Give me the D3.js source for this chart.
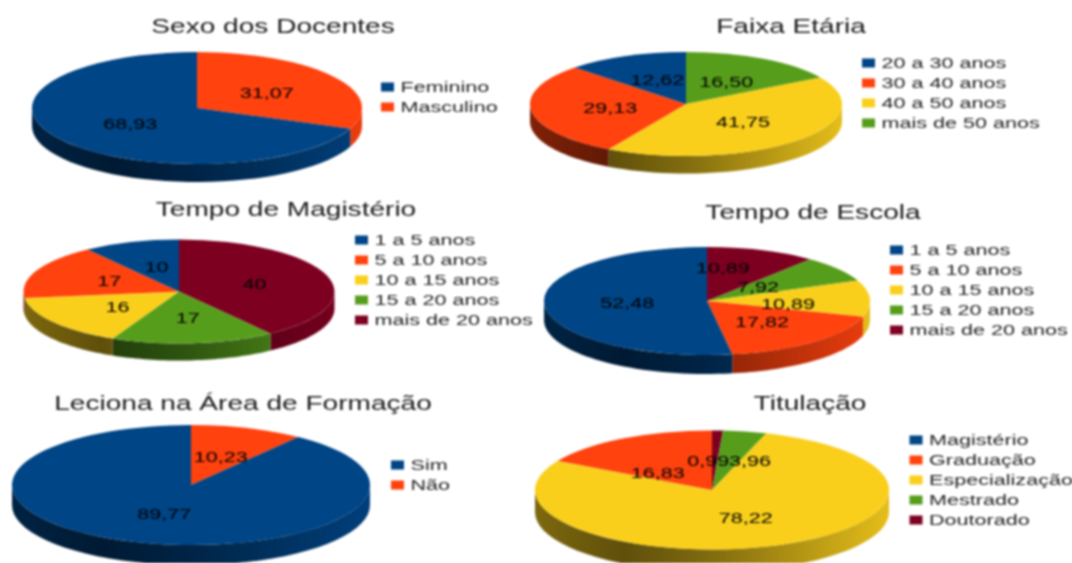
<!DOCTYPE html>
<html lang="pt">
<head>
<meta charset="utf-8">
<title>Perfil dos docentes</title>
<script src="https://cdn.jsdelivr.net/npm/d3@7"></script>
<style>
  html, body { margin: 0; padding: 0; background: #fff; overflow: hidden; }
  svg { display: block; filter: blur(0.8px); }
  text { font-family: "Liberation Sans", Arial, sans-serif; }
</style>
</head>
<body>
<div id="paineis"></div>
<script>
// valores
const sexoCategorias = ["Feminino", "Masculino"];
const sexoValores = [68.93, 31.07];

const faixaCategorias = ["20 a 30 anos", "30 a 40 anos", "40 a 50 anos", "mais de 50 anos"];
const faixaValores = [12.62, 29.13, 41.75, 16.50];

const magisterioCategorias = ["1 a 5 anos", "5 a 10 anos", "10 a 15 anos", "15 a 20 anos", "mais de 20 anos"];
const magisterioValores = [10, 17, 16, 17, 40];

const escolaCategorias = ["1 a 5 anos", "5 a 10 anos", "10 a 15 anos", "15 a 20 anos", "mais de 20 anos"];
const escolaValores = [52.48, 17.82, 10.89, 7.92, 10.89];

const lecionaCategorias = ["Sim", "Não"];
const lecionaValores = [89.77, 10.23];

const titulacaoCategorias = ["Magistério", "Graduação", "Especialização", "Mestrado", "Doutorado"];
const titulacaoValores = [0, 16.83, 78.22, 3.96, 0.99];

const cores = ["#004586", "#ff420e", "#f9cf1c", "#579d1c", "#7e0021"];

// a figura original foi esticada na horizontal, o texto acompanha
const esticaX = 1.44;

let paineis = [
  {titulo: "Sexo dos Docentes", tituloX: 273, tituloY: 33, categorias: sexoCategorias, valores: sexoValores,
   cx: 197, cy: 108, rx: 165, ry: 56, fundo: 18, legendaX: 381, legendaY: 87},
  {titulo: "Faixa Etária", tituloX: 791, tituloY: 33, categorias: faixaCategorias, valores: faixaValores,
   cx: 686, cy: 104, rx: 156, ry: 52, fundo: 17.5, legendaX: 862, legendaY: 63},
  {titulo: "Tempo de Magistério", tituloX: 286, tituloY: 216, categorias: magisterioCategorias, valores: magisterioValores,
   cx: 179, cy: 291.5, rx: 155.5, ry: 52, fundo: 17, legendaX: 355, legendaY: 240},
  {titulo: "Tempo de Escola", tituloX: 813, tituloY: 219, categorias: escolaCategorias, valores: escolaValores,
   cx: 707, cy: 301, rx: 163, ry: 54, fundo: 19, legendaX: 890, legendaY: 250,
   ajustes: [[0, 0], [0, 0], [-2, 4], [-16, 2], [-13, -8]]},
  {titulo: "Leciona na Área de Formação", tituloX: 243, tituloY: 410, categorias: lecionaCategorias, valores: lecionaValores,
   cx: 191, cy: 485, rx: 179, ry: 60, fundo: 20, legendaX: 391, legendaY: 465},
  {titulo: "Titulação", tituloX: 810, tituloY: 410, categorias: titulacaoCategorias, valores: titulacaoValores,
   cx: 712, cy: 490, rx: 177, ry: 59.5, fundo: 22, legendaX: 909.5, legendaY: 440,
   ajustes: [[0, 0], [-11, 8], [0, 0], [20, 0], [-8, 0]]}
];

const svg = d3.select("#paineis")
  .append("svg")
  .attr("width", 1072)
  .attr("height", 563);
const defs = svg.append("defs");

function escurece(cor, fator) {
  let c = d3.rgb(cor);
  return d3.rgb(c.r * fator, c.g * fator, c.b * fator).formatHex();
}

function texto(g, x, y, tamanho, ancora, conteudo) {
  return g.append("text")
    .attr("transform", `translate(${x},${y}) scale(${esticaX},1)`)
    .attr("font-size", tamanho)
    .attr("text-anchor", ancora)
    .attr("dominant-baseline", "central")
    .text(conteudo);
}

function desenhaPizza(p, n) {
  let g = svg.append("g");
  let escalaY = p.ry / p.rx;

  // sentido horario a partir do topo, ordem inversa da legenda
  let fatias = d3.pie().sort(null)
    .value(d => d.valor)(p.valores.map((v, i) => ({valor: v, indice: i})).reverse());
  let arco = d3.arc().innerRadius(0).outerRadius(p.rx);

  // gradiente das paredes
  p.valores.forEach((v, i) => {
    let grad = defs.append("linearGradient")
      .attr("id", `parede-${n}-${i}`)
      .attr("gradientUnits", "userSpaceOnUse")
      .attr("x1", p.cx - p.rx)
      .attr("x2", p.cx + p.rx)
      .attr("y1", 0)
      .attr("y2", 0);
    [[0, 0.5], [0.25, 0.38], [0.5, 0.52], [0.75, 0.72], [1, 0.92]].forEach(s => {
      grad.append("stop")
        .attr("offset", s[0])
        .attr("stop-color", escurece(cores[i], s[1]));
    });
  });

  let borda = ang => [p.cx + p.rx * Math.sin(ang), p.cy - p.ry * Math.cos(ang)];
  let linha = d3.line();

  // so a metade da frente aparece
  fatias.forEach(f => {
    let a0 = Math.max(f.startAngle, Math.PI / 2);
    let a1 = Math.min(f.endAngle, Math.PI * 1.5);
    if (a1 <= a0) return;
    let passos = d3.range(0, 41).map(k => a0 + (a1 - a0) * k / 40);
    let cima = passos.map(borda);
    let baixo = passos.map(borda).map(q => [q[0], q[1] + p.fundo]).reverse();
    g.append("path")
      .attr("d", linha(cima.concat(baixo)) + "Z")
      .attr("fill", `url(#parede-${n}-${f.data.indice})`);
  });

  g.append("g")
    .attr("transform", `translate(${p.cx},${p.cy}) scale(1,${escalaY})`)
    .selectAll("path")
    .data(fatias)
    .join("path")
    .attr("fill", d => cores[d.data.indice])
    .attr("d", arco);

  // rotulos no centro de cada fatia
  fatias.forEach(f => {
    if (f.data.valor === 0) return;
    let c = arco.centroid(f);
    let aj = p.ajustes ? p.ajustes[f.data.indice] : [0, 0];
    let rotulo = Number.isInteger(f.data.valor)
      ? String(f.data.valor)
      : f.data.valor.toFixed(2).replace(".", ",");
    texto(g, p.cx + c[0] + aj[0] + 1.5, p.cy + c[1] * escalaY + aj[1], 15, "middle", rotulo)
      .attr("fill", "#000");
  });

  texto(g, p.tituloX, p.tituloY - 7, 19.5, "middle", p.titulo).attr("fill", "#1a1a1a");

  // legenda
  p.categorias.forEach((nome, i) => {
    let y = p.legendaY + i * 20;
    g.append("rect")
      .attr("x", p.legendaX)
      .attr("y", y - 4.5)
      .attr("width", 13)
      .attr("height", 9)
      .attr("fill", cores[i]);
    texto(g, p.legendaX + 19.5, y, 15, "start", nome).attr("fill", "#222");
  });
}

paineis.forEach(desenhaPizza);
</script>
</body>
</html>
